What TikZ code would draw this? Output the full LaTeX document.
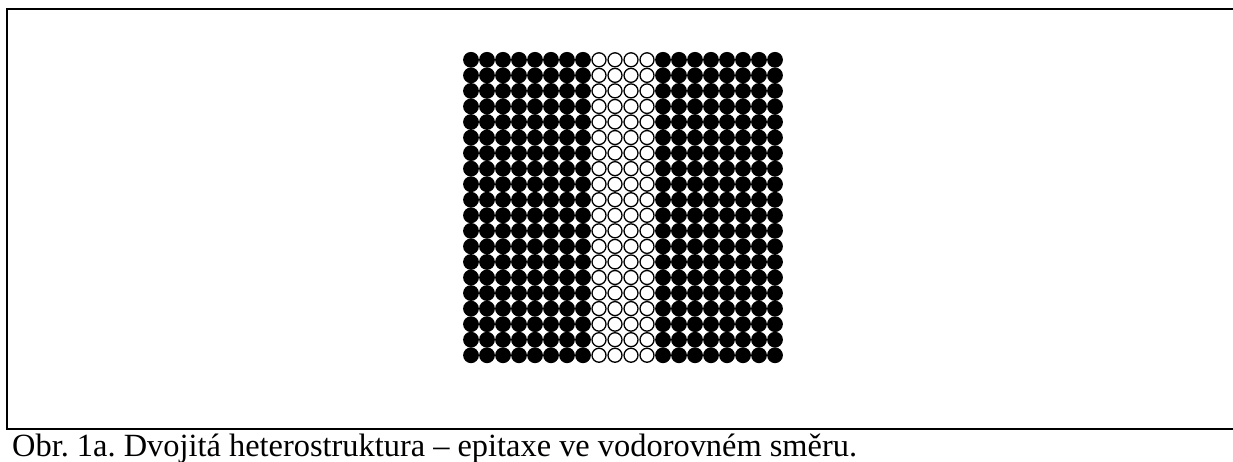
\documentclass[tikz,border=0pt]{standalone}
\usepackage{fontspec}
\setmainfont{Liberation Serif}
\frenchspacing
\begin{document}
\begin{tikzpicture}[x=1pt,y=-1pt,
  frameline/.style={line width=2pt},
  atomfull/.style={fill=black},
  atomempty/.style={draw=black,line width=1.3pt,fill=white}]
\useasboundingbox (0,0) rectangle (1233,461);
% frame around the drawing area, open towards the right
\draw[frameline] (1240,9) -- (7,9) -- (7,429) -- (1240,429);
% lattice: 20 columns x 20 rows, columns 9--12 form the middle layer
\foreach \i in {0,...,19}{
  \foreach \j in {0,...,19}{
    \pgfmathsetmacro{\cx}{471+16*\i}
    \pgfmathsetmacro{\cy}{59.8+15.55*\j}
    \ifnum\i>7 \ifnum\i<12
      \path[atomempty] (\cx,\cy) circle[radius=7.0];
    \else
      \path[atomfull] (\cx,\cy) circle[radius=7.9];
    \fi\else
      \path[atomfull] (\cx,\cy) circle[radius=7.9];
    \fi
  }
}
\node[anchor=base west,inner sep=0pt,font=\fontsize{32.4}{36}\selectfont] (caption) at (12,456)
  {Obr. 1a. Dvojitá heterostruktura – epitaxe ve vodorovném směru.};
\end{tikzpicture}
\end{document}
